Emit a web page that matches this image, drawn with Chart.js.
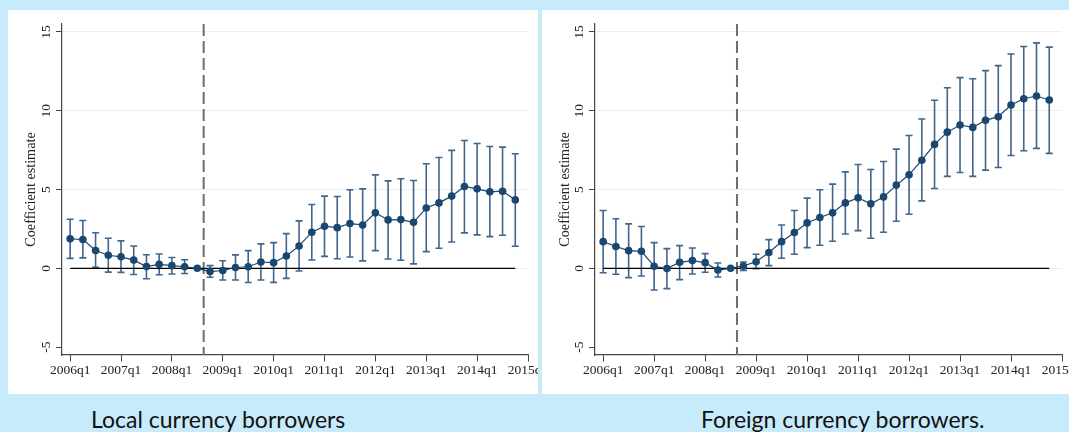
<!DOCTYPE html>
<html>
<head>
<meta charset="utf-8">
<script src="https://cdn.jsdelivr.net/npm/chart.js@4.4.1/dist/chart.umd.min.js"></script>
<style>
  html, body { margin: 0; padding: 0; }
  body { width: 1069px; height: 432px; background: #c7ebfb; position: relative; overflow: hidden; }
  .panel { position: absolute; top: 10px; height: 384px; background: #fff; overflow: hidden; }
  #panelLocal { left: 8px; width: 530px; }
  #panelForeign { left: 542px; width: 527px; }
  .inner { position: relative; height: 384px; }
  .caption { position: absolute; top: 408px; font-family: Lato, sans-serif; font-size: 23px; line-height: 23px; color: #111; white-space: nowrap; }
</style>
</head>
<body>
<div class="panel" id="panelLocal"><div class="inner" style="width:580px"><canvas id="chartLocal"></canvas></div></div>
<div class="panel" id="panelForeign"><div class="inner" style="width:577px"><canvas id="chartForeign"></canvas></div></div>
<div class="caption" style="left:91px">Local currency borrowers</div>
<div class="caption" style="left:701px">Foreign currency borrowers.</div>
<script>
// Quarters 2006q1 .. 2014q4 are x = 0 .. 35; ticks every year
var xTickIdx = [0, 4, 8, 12, 16, 20, 24, 28, 32, 36];
var xTickLabels = ['2006q1', '2007q1', '2008q1', '2009q1', '2010q1', '2011q1', '2012q1', '2013q1', '2014q1', '2015q1'];
var yTicks = [-5, 0, 5, 10, 15];
var crisisIndex = 10.5; // dashed line between 2008q3 and 2008q4

// Local currency borrowers
var localCoef = [1.87, 1.83, 1.13, 0.83, 0.73, 0.52, 0.11, 0.25, 0.17, 0.10, 0, -0.21, -0.14, 0.05, 0.10, 0.40, 0.36, 0.78, 1.42, 2.29, 2.67, 2.58, 2.84, 2.75, 3.52, 3.07, 3.09, 2.92, 3.83, 4.15, 4.58, 5.19, 5.04, 4.85, 4.89, 4.34];
var localLow = [0.63, 0.66, 0.06, -0.24, -0.26, -0.39, -0.66, -0.41, -0.36, -0.33, 0, -0.57, -0.74, -0.74, -0.90, -0.74, -0.89, -0.64, -0.17, 0.53, 0.76, 0.61, 0.72, 0.47, 1.12, 0.59, 0.51, 0.28, 1.06, 1.27, 1.67, 2.25, 2.12, 2.01, 2.10, 1.40];
var localHigh = [3.11, 3.03, 2.26, 1.91, 1.74, 1.42, 0.86, 0.91, 0.69, 0.54, 0, 0.17, 0.48, 0.85, 1.12, 1.55, 1.63, 2.20, 3.01, 4.05, 4.58, 4.56, 4.98, 5.04, 5.93, 5.55, 5.68, 5.57, 6.63, 7.03, 7.48, 8.11, 7.92, 7.73, 7.69, 7.27];

// Foreign currency borrowers
var foreignCoef = [1.69, 1.38, 1.12, 1.08, 0.13, -0.02, 0.38, 0.49, 0.36, -0.11, 0, 0.15, 0.42, 1.00, 1.69, 2.27, 2.88, 3.22, 3.52, 4.15, 4.47, 4.09, 4.53, 5.28, 5.93, 6.86, 7.86, 8.64, 9.09, 8.94, 9.39, 9.62, 10.36, 10.76, 10.93, 10.68];
var foreignLow = [-0.28, -0.38, -0.59, -0.49, -1.38, -1.29, -0.72, -0.36, -0.25, -0.55, 0, -0.13, -0.02, 0.17, 0.64, 0.89, 1.31, 1.46, 1.72, 2.18, 2.39, 1.91, 2.29, 2.99, 3.43, 4.28, 5.06, 5.83, 6.08, 5.83, 6.23, 6.40, 7.16, 7.46, 7.61, 7.29];
var foreignHigh = [3.67, 3.14, 2.82, 2.65, 1.63, 1.25, 1.44, 1.29, 0.93, 0.34, 0, 0.40, 0.89, 1.82, 2.75, 3.67, 4.45, 4.98, 5.34, 6.12, 6.59, 6.27, 6.78, 7.56, 8.43, 9.47, 10.66, 11.46, 12.10, 12.03, 12.54, 12.86, 13.60, 14.07, 14.30, 14.03];

var serif = 'Liberation Serif, Times New Roman, serif';

// Plugin: dashed crisis line, confidence intervals with caps, rotated y labels
function makeStataPlugin(low, high) {
    return {
        id: 'stataExtras',
        beforeDatasetsDraw: function(chart) {
            var ctx = chart.ctx;
            var xs = chart.scales.x;
            var ys = chart.scales.y;
            var area = chart.chartArea;

            ctx.save();
            var xd = xs.getPixelForValue(crisisIndex);
            ctx.strokeStyle = '#6e6e6e';
            ctx.lineWidth = 2;
            ctx.setLineDash([12, 5]);
            ctx.beginPath();
            ctx.moveTo(xd, area.top);
            ctx.lineTo(xd, area.bottom);
            ctx.stroke();
            ctx.setLineDash([]);

            ctx.strokeStyle = '#42658c';
            ctx.lineWidth = 1.6;
            for (var i = 0; i < low.length; i++) {
                if (low[i] === high[i]) continue;
                var x = xs.getPixelForValue(i);
                var y1 = ys.getPixelForValue(low[i]);
                var y2 = ys.getPixelForValue(high[i]);
                ctx.beginPath();
                ctx.moveTo(x, y1);
                ctx.lineTo(x, y2);
                ctx.moveTo(x - 3.5, y1);
                ctx.lineTo(x + 3.5, y1);
                ctx.moveTo(x - 3.5, y2);
                ctx.lineTo(x + 3.5, y2);
                ctx.stroke();
            }
            ctx.restore();
        },
        afterDraw: function(chart) {
            var ctx = chart.ctx;
            var ys = chart.scales.y;
            var area = chart.chartArea;
            ctx.save();
            ctx.fillStyle = '#222';
            ctx.font = '13.5px ' + serif;
            ctx.textAlign = 'center';
            ctx.textBaseline = 'middle';
            yTicks.forEach(function(v) {
                var y = ys.getPixelForValue(v);
                ctx.save();
                ctx.translate(area.left - 15.5, y);
                ctx.rotate(-Math.PI / 2);
                ctx.fillText(String(v), 0, 0);
                ctx.restore();
            });
            ctx.restore();
        }
    };
}

function buildChart(canvasId, coef, low, high, axisWidth, padRight) {
    var ctx = document.getElementById(canvasId).getContext('2d');
    return new Chart(ctx, {
        type: 'scatter',
        data: {
            datasets: [{
                data: coef.map(function(v, i) { return { x: i, y: v }; }),
                showLine: true,
                borderColor: '#1a476f',
                borderWidth: 1.2,
                pointRadius: 3.8,
                pointHoverRadius: 3.8,
                pointBackgroundColor: '#1a476f',
                pointBorderWidth: 0,
                order: 1
            }, {
                // horizontal zero line across the estimation window
                data: [{ x: 0, y: 0 }, { x: coef.length - 1, y: 0 }],
                showLine: true,
                borderColor: '#000',
                borderWidth: 1.3,
                pointRadius: 0,
                order: 2
            }]
        },
        options: {
            responsive: true,
            maintainAspectRatio: false,
            animation: false,
            events: [],
            layout: { padding: { left: 0, top: 14, right: padRight, bottom: 0 } },
            plugins: {
                legend: { display: false },
                tooltip: { enabled: false }
            },
            scales: {
                x: {
                    type: 'linear',
                    min: -0.64,
                    max: 36,
                    afterBuildTicks: function(s) { s.ticks = xTickIdx.map(function(v) { return { value: v }; }); },
                    afterFit: function(s) { s.height = 39; },
                    grid: { drawOnChartArea: false, drawTicks: true, tickLength: 6.5, tickColor: '#444', tickWidth: 1 },
                    border: { color: '#444', width: 1.2 },
                    ticks: {
                        color: '#222',
                        font: { family: serif, size: 13.5 },
                        padding: 1,
                        maxRotation: 0,
                        minRotation: 0,
                        autoSkip: false,
                        callback: function(value, index) { return xTickLabels[index]; }
                    }
                },
                y: {
                    min: -5.5,
                    max: 15.5,
                    afterBuildTicks: function(s) { s.ticks = yTicks.map(function(v) { return { value: v }; }); },
                    afterFit: function(s) { s.width = axisWidth; },
                    grid: {
                        color: function(c) { return c.tick && c.tick.value === -5 ? 'rgba(0,0,0,0)' : '#e6eff2'; },
                        tickColor: '#444',
                        tickLength: 6,
                        lineWidth: 1
                    },
                    border: { color: '#444', width: 1.2 },
                    ticks: { display: false },
                    title: {
                        display: true,
                        text: 'Coefficient estimate',
                        color: '#222',
                        font: { family: serif, size: 14.2 },
                        padding: { top: 15, bottom: 0 }
                    }
                }
            }
        },
        plugins: [makeStataPlugin(low, high)]
    });
}

buildChart('chartLocal', localCoef, localLow, localHigh, 54, 60);
buildChart('chartForeign', foreignCoef, foreignLow, foreignHigh, 53, 57);
</script>
</body>
</html>
